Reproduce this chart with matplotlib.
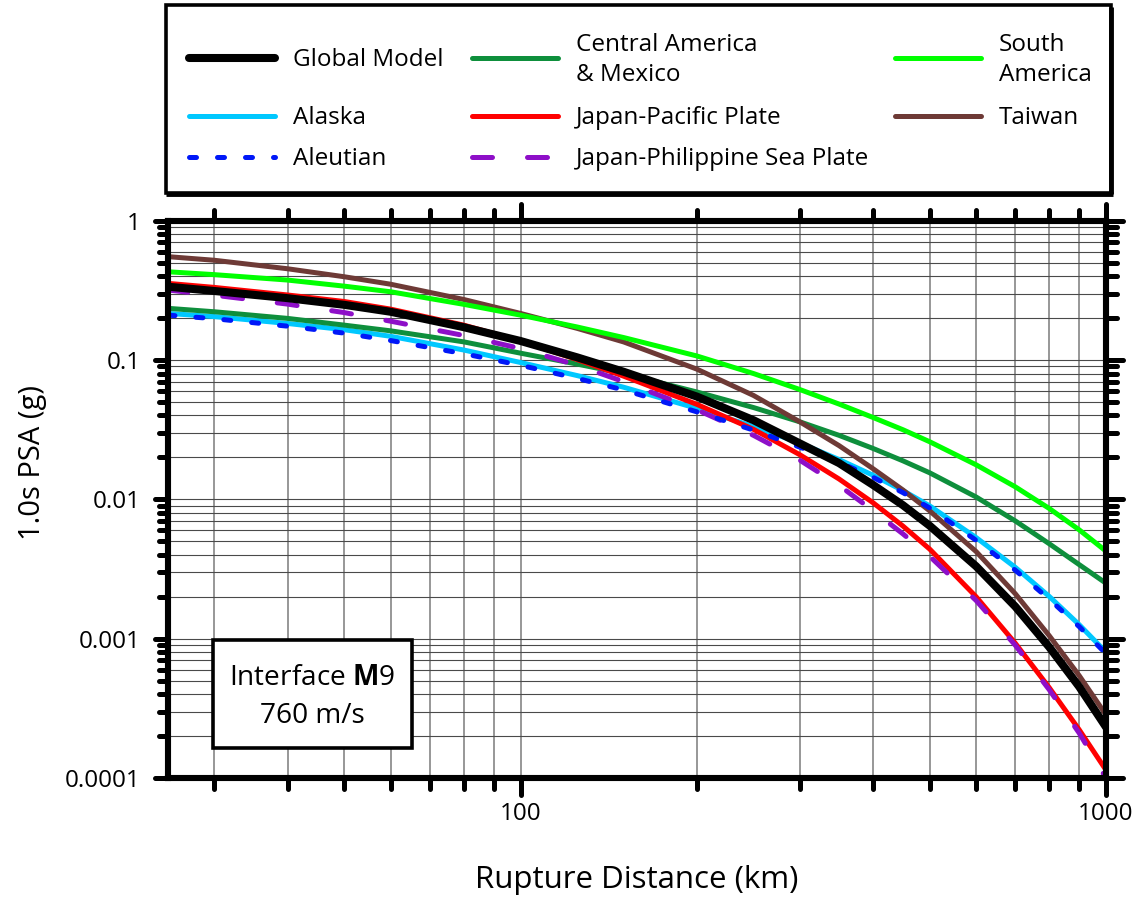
import matplotlib
matplotlib.use("Agg")
import matplotlib.pyplot as plt
from matplotlib.markers import MarkerStyle
from matplotlib.patches import Rectangle

plt.rcParams['font.family'] = ['Open Sans', 'DejaVu Sans']
plt.rcParams['mathtext.fontset'] = 'custom'
plt.rcParams['mathtext.rm'] = 'Open Sans'
plt.rcParams['mathtext.bf'] = 'Open Sans:bold'

# ---------------- data ----------------
distance_km = [25, 30, 40, 50, 60, 80, 100, 125, 150, 200, 250, 300, 350, 400, 450, 500,
               600, 700, 800, 900, 1000]

global_model = [0.336, 0.313, 0.278, 0.249, 0.222, 0.172, 0.137, 0.1045, 0.0824, 0.0547, 0.037,
                0.0252, 0.0182, 0.0127, 0.00908, 0.00646, 0.00331, 0.0017, 0.00087, 0.000452,
                0.000232]
central_america = [0.235, 0.222, 0.199, 0.178, 0.162, 0.135, 0.112, 0.0935, 0.080, 0.059, 0.0456,
                   0.036, 0.0288, 0.0232, 0.0189, 0.0155, 0.0104, 0.0070, 0.0048, 0.0034, 0.0025]
south_america = [0.43, 0.41, 0.375, 0.339, 0.309, 0.251, 0.21, 0.1726, 0.145, 0.107, 0.080,
                 0.0614, 0.0483, 0.0387, 0.0316, 0.0259, 0.0177, 0.0123, 0.0086, 0.00604, 0.00425]
alaska = [0.216, 0.205, 0.183, 0.165, 0.148, 0.118, 0.096, 0.0773, 0.0638, 0.045, 0.0333,
          0.0254, 0.0193, 0.0149, 0.01156, 0.00897, 0.00532, 0.00325, 0.00201, 0.00126, 0.0008]
japan_pacific = [0.355, 0.332, 0.293, 0.263, 0.232, 0.178, 0.137, 0.1007, 0.0766, 0.0481, 0.0318,
                 0.0209, 0.014, 0.00946, 0.00643, 0.00439, 0.0020, 0.000927, 0.000445, 0.000222,
                 0.000114]
taiwan = [0.552, 0.52, 0.452, 0.396, 0.35, 0.272, 0.216, 0.1687, 0.1349, 0.0861, 0.0557,
          0.036, 0.0243, 0.0166, 0.01167, 0.00826, 0.00422, 0.0021, 0.00105, 0.000543, 0.000284]
aleutian = [0.21, 0.198, 0.175, 0.156, 0.138, 0.111, 0.0917, 0.0738, 0.061, 0.0425, 0.0314,
            0.0237, 0.01845, 0.0144, 0.01117, 0.00867, 0.00508, 0.0031, 0.00192, 0.00122, 0.00078]
japan_philippine = [0.318, 0.292, 0.252, 0.219, 0.19, 0.15, 0.121, 0.0916, 0.070, 0.044, 0.0288,
                    0.0191, 0.0126, 0.0083, 0.00565, 0.0039, 0.00188, 0.000897, 0.00043, 0.00021,
                    0.0001]

x_major_ticks = [100, 1000]
x_major_labels = ['100', '1000']
y_major_ticks = [0.0001, 0.001, 0.01, 0.1, 1]
y_major_labels = ['0.0001', '0.001', '0.01', '0.1', '1']

# ---------------- styles ----------------
C_BLACK = '#000000'
C_GREEN = '#0E8F3C'
C_LIME = '#00FF00'
C_CYAN = '#00C8FF'
C_RED = '#FF0000'
C_BROWN = '#6E3A36'
C_BLUE = '#0018F8'
C_PURPLE = '#8E0FC8'

LW = 3.6
LW_BLACK = 5.8
blue_ls = (0, (1.4, 4.2))
purple_ls = (0, (4.0, 7.0))

W, H = 1140, 899
fig = plt.figure(figsize=(W / 100, H / 100), dpi=100)

ax_l, ax_r, ax_t, ax_b = 168, 1106, 220.7, 778
ax = fig.add_axes([ax_l / W, 1 - ax_b / H, (ax_r - ax_l) / W, (ax_b - ax_t) / H])
ax.set_xscale('log')
ax.set_yscale('log')
ax.set_xlim(25, 1000)
ax.set_ylim(0.0001, 1)

common = dict(solid_capstyle='round', solid_joinstyle='round')
ax.plot(distance_km, alaska, color=C_CYAN, lw=LW, zorder=2, **common)
ax.plot(distance_km, central_america, color=C_GREEN, lw=LW, zorder=3, **common)
ax.plot(distance_km, taiwan, color=C_BROWN, lw=LW, zorder=4, **common)
ax.plot(distance_km, south_america, color=C_LIME, lw=LW, zorder=5, **common)
ax.plot(distance_km, japan_pacific, color=C_RED, lw=LW, zorder=6, **common)
ax.plot(distance_km, japan_philippine, color=C_PURPLE, lw=LW, zorder=7, linestyle=purple_ls,
        dash_capstyle='round', dash_joinstyle='round')
ax.plot(distance_km, aleutian, color=C_BLUE, lw=LW, zorder=8, linestyle=blue_ls,
        dash_capstyle='round', dash_joinstyle='round')
ax.plot(distance_km, global_model, color=C_BLACK, lw=LW_BLACK, zorder=9, **common)

# ticks
ax.set_xticks(x_major_ticks)
ax.set_xticklabels(x_major_labels)
x_minor = [m * d for d in (10, 100) for m in range(2, 10) if 25 < m * d < 1000]
ax.set_xticks(x_minor, minor=True)
ax.set_yticks(y_major_ticks)
ax.set_yticklabels(y_major_labels)
y_minor = [m * 10.0 ** e for e in range(-4, 0) for m in range(2, 10)]
ax.set_yticks(y_minor, minor=True)
ax.xaxis.set_minor_formatter(plt.NullFormatter())
ax.yaxis.set_minor_formatter(plt.NullFormatter())

ax.tick_params(axis='both', which='both', direction='out', width=3.6, color='black',
               top=True, right=False, labelsize=17.5)
ax.tick_params(axis='x', which='major', length=12.5, pad=5)
ax.tick_params(axis='x', which='minor', length=8)
ax.tick_params(axis='y', which='major', length=9.5, pad=10)
ax.tick_params(axis='y', which='minor', length=6.5)

for sp in ax.spines.values():
    sp.set_linewidth(4.4)
    sp.set_zorder(20)

ax.set_axisbelow(True)
ax.grid(True, which='both', axis='x', color='#7a7a7a', lw=1.1)
ax.grid(True, which='both', axis='y', color='#4a4a4a', lw=0.8)

# right-hand ticks (longer than the left ones) on a twin axis
ax2 = ax.twinx()
ax2.set_yscale('log')
ax2.set_ylim(0.0001, 1)
ax2.set_yticks(y_major_ticks)
ax2.set_yticks(y_minor, minor=True)
ax2.tick_params(axis='y', which='both', direction='out', width=3.6, color='black',
                labelright=False, right=True)
ax2.tick_params(axis='y', which='major', length=12.5)
ax2.tick_params(axis='y', which='minor', length=8)
for sp in ax2.spines.values():
    sp.set_visible(False)

# round caps on tick marks
for a in (ax, ax2):
    for axis in (a.xaxis, a.yaxis):
        for minor in (False, True):
            for ln in axis.get_ticklines(minor=minor):
                try:
                    ln.set_marker(MarkerStyle(ln.get_marker(), capstyle='round'))
                except Exception:
                    pass

# axis labels
fig.text(637 / W, 1 - 880 / H, 'Rupture Distance (km)', ha='center', va='center', fontsize=22.5)
fig.text(33 / W, 1 - 463 / H, '1.0s PSA (g)', ha='center', va='center', fontsize=21,
         rotation=90)

# overlay in pixel coordinates for legend and annotation box
ov = fig.add_axes([0, 0, 1, 1], zorder=30)
ov.set_xlim(0, W)
ov.set_ylim(H, 0)
ov.axis('off')
ov.patch.set_alpha(0)

# annotation box
ov.add_patch(Rectangle((213, 640), 199, 108, facecolor='white', edgecolor='black', lw=2.6))
ov.text(312, 678, 'Interface $\\mathbf{M}$9', ha='center', va='center', fontsize=20.2)
ov.text(312, 716, '760 m/s', ha='center', va='center', fontsize=20.2)

# legend
ov.add_patch(Rectangle((166, 5), 945, 188, facecolor='white', edgecolor='black', lw=2.6))
ov.plot([1111, 1111], [7, 194], color='black', lw=3.5, solid_capstyle='butt')
ov.plot([166, 1113], [194, 194], color='black', lw=3.5, solid_capstyle='butt')

leg_fs = 17.5
entries = [
    (187, 58, 'Global Model', C_BLACK, LW_BLACK, '-'),
    (470, 58, 'Central America\n& Mexico', C_GREEN, LW, '-'),
    (893, 58, 'South\nAmerica', C_LIME, LW, '-'),
    (187, 116, 'Alaska', C_CYAN, LW, '-'),
    (470, 116, 'Japan-Pacific Plate', C_RED, LW, '-'),
    (893, 116, 'Taiwan', C_BROWN, LW, '-'),
    (187, 157, 'Aleutian', C_BLUE, LW, blue_ls),
    (470, 157, 'Japan-Philippine Sea Plate', C_PURPLE, LW, purple_ls),
]
for x0, y0, lab, col, lw, ls in entries:
    ov.plot([x0 + 2, x0 + 88], [y0, y0], color=col, lw=lw, linestyle=ls,
            solid_capstyle='round', dash_capstyle='round')
    ov.text(x0 + 106, y0 + 2, lab, ha='left', va='center', fontsize=leg_fs, linespacing=1.37)

fig.savefig('out.png', dpi=100)
